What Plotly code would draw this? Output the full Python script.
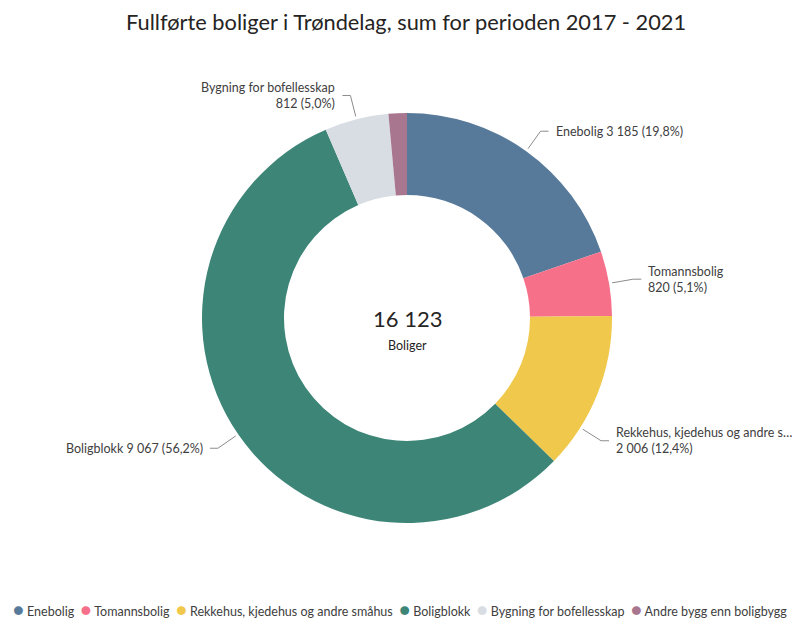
import math
import plotly.graph_objects as go

categories = ["Enebolig", "Tomannsbolig", "Rekkehus, kjedehus og andre småhus",
              "Boligblokk", "Bygning for bofellesskap", "Andre bygg enn boligbygg"]
values = [3185, 820, 2006, 9067, 812, 233]
label_names = ["Enebolig", "Tomannsbolig", "Rekkehus, kjedehus og andre s…",
               "Boligblokk", "Bygning for bofellesskap", None]
colors = ["#587A9A", "#F6708A", "#F0C84B", "#3D8577", "#D8DDE4", "#A8768F"]
# style: small angular nudges of the leader lines (degrees)
label_angle_shift = [0, 0, 10.5, 0, 0, 0]

TITLE = "Fullførte boliger i Trøndelag, sum for perioden 2017 - 2021"
FONT = "Lato"
W, H = 800, 627
OFF = 8  # page body margin
cx, cy, R = 407 - OFF, 318 - OFF, 205

def nfmt(v):
    return f"{v:,}".replace(",", " ")

def pfmt(p):
    return f"{p*100:.1f}".replace(".", ",") + "%"

total = sum(values)

fig = go.Figure()
fig.add_trace(go.Pie(
    labels=categories, values=values, hole=0.6, sort=False,
    direction="clockwise", rotation=0,
    marker=dict(colors=colors, line=dict(width=0)),
    textinfo="none", hoverinfo="label+value+percent", showlegend=False,
    domain=dict(x=[(cx - R) / W, (cx + R) / W],
                y=[1 - (cy + R) / H, 1 - (cy - R) / H]),
))

px = lambda x: x / W
py = lambda y: 1 - y / H

annotations = []
shapes = []
cum = 0
for v, name, sh in zip(values, label_names, label_angle_shift):
    frac = v / total
    mid = (cum + frac / 2) * 2 * math.pi + math.radians(sh)
    cum += frac
    if name is None:
        continue
    s, c = math.sin(mid), math.cos(mid)
    ax_, ay_ = cx + 1.015 * R * s, cy - 1.015 * R * c
    ex, ey = cx + 1.12 * R * s, cy - 1.12 * R * c
    right = s >= 0
    hx = ex + (8 if right else -8)
    shapes.append(dict(type="path", xref="paper", yref="paper",
                       path=f"M {px(ax_)} {py(ay_)} L {px(ex)} {py(ey)} L {px(hx)} {py(ey)}",
                       line=dict(color="#8C8C8C", width=1)))
    num = f"{nfmt(v)} ({pfmt(frac)})"
    if len(name) > 10:
        txt = f"{name}<br>{num}"
    else:
        txt = f"{name} {num}"
    annotations.append(dict(
        x=px(hx + (5 if right else -5)), y=py(ey), xref="paper", yref="paper",
        text=txt, showarrow=False, xanchor="left" if right else "right",
        yanchor="middle", align="left" if right else "right",
        font=dict(family=FONT, size=12.5, color="#404040")))

annotations.append(dict(x=px(cx), y=py(318 - OFF), xref="paper", yref="paper",
                        text=nfmt(total), showarrow=False,
                        font=dict(family=FONT, size=22, color="#252423")))
annotations.append(dict(x=px(cx), y=py(345 - OFF), xref="paper", yref="paper",
                        text="Boliger", showarrow=False,
                        font=dict(family=FONT, size=12.5, color="#252423")))

# legend row with round markers
legend_items = [f'<span style="color:{col};font-size:18px">●</span> {c}'
                for c, col in zip(categories, colors)]
annotations.append(dict(x=px(400 - OFF), y=py(609 - OFF), xref="paper", yref="paper",
                        text="  ".join(legend_items), showarrow=False,
                        xanchor="center", yanchor="middle",
                        font=dict(family=FONT, size=12.5, color="#404040")))

annotations.append(dict(x=px(406 - OFF), y=py(22 - OFF), xref="paper", yref="paper",
                        text=TITLE, showarrow=False, xanchor="center", yanchor="middle",
                        font=dict(family=FONT, size=21.8, color="#252423")))

fig.update_layout(
    width=W, height=H,
    margin=dict(l=0, r=0, t=0, b=0),
    paper_bgcolor="white", plot_bgcolor="white",
    showlegend=False,
    annotations=annotations, shapes=shapes,
    font=dict(family=FONT),
)

fig.write_html("out.html")
